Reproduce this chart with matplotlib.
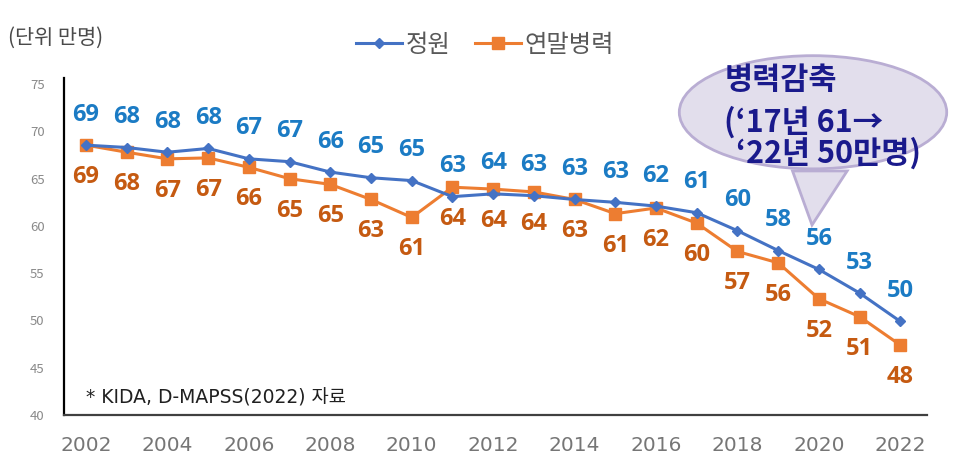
import matplotlib
matplotlib.use("Agg")
import matplotlib.pyplot as plt
from matplotlib.patches import Ellipse, Polygon

plt.rcParams['font.family'] = ['Noto Sans CJK KR', 'DejaVu Sans']

years = list(range(2002, 2023))
# 정원 (quota) and 연말병력 (year-end troops), 만명
quota = [68.55, 68.3, 67.8, 68.2, 67.1, 66.8, 65.7, 65.1, 64.8, 63.1, 63.4,
         63.2, 62.8, 62.5, 62.1, 61.4, 59.5, 57.4, 55.4, 52.9, 49.9]
troops = [68.55, 67.8, 67.1, 67.2, 66.2, 65.0, 64.4, 62.8, 60.9, 64.1, 63.9,
          63.6, 62.8, 61.3, 61.9, 60.3, 57.3, 56.1, 52.3, 50.4, 47.4]
quota_labels = [69, 68, 68, 68, 67, 67, 66, 65, 65, 63, 64, 63, 63, 63, 62, 61, 60, 58, 56, 53, 50]
troop_labels = [69, 68, 67, 67, 66, 65, 65, 63, 61, 64, 64, 64, 63, 61, 62, 60, 57, 56, 52, 51, 48]
xticks = list(range(2002, 2023, 2))
yticks = [40, 45, 50, 55, 60, 65, 70, 75]

fig = plt.figure(figsize=(9.76, 4.62), dpi=100)
ax = fig.add_axes([0.0656, 0.1017, 0.8844, 0.729])

ax.plot(years, quota, color='#4472C4', lw=2.2, marker='D', ms=5.5, label='정원', zorder=3)
ax.plot(years, troops, color='#ED7D31', lw=2.2, marker='s', ms=8, label='연말병력', zorder=2)

lab_font = ['Open Sans', 'DejaVu Sans']
for x, y, t in zip(years, quota, quota_labels):
    ax.annotate(str(t), (x, y), xytext=(0, 22), textcoords='offset points',
                ha='center', va='center', fontsize=17, fontweight='bold',
                color='#1B7BC4', family=lab_font)
for x, y, t in zip(years, troops, troop_labels):
    ax.annotate(str(t), (x, y), xytext=(0, -23), textcoords='offset points',
                ha='center', va='center', fontsize=17, fontweight='bold',
                color='#C55A11', family=lab_font)

ax.set_xlim(2001.46, 2022.66)
ax.set_ylim(40, 75.63)
ax.set_xticks(xticks)
ax.set_xticklabels([str(v) for v in xticks], fontsize=14.5, color='#767676', family='DejaVu Sans')
ax.set_yticks(yticks)
ax.set_yticklabels([str(v) for v in yticks], fontsize=9.5, color='#8a8a8a')
ax.tick_params(axis='x', length=0, pad=15)
ax.tick_params(axis='y', length=0, pad=14)
for s in ['top', 'right']:
    ax.spines[s].set_visible(False)
ax.spines['left'].set_color('black')
ax.spines['left'].set_linewidth(1.6)
ax.spines['bottom'].set_color('#404040')
ax.spines['bottom'].set_linewidth(1.6)

fig.legend(loc='center', bbox_to_anchor=(0.497, 0.903), ncol=2, frameon=False,
           fontsize=17.5, labelcolor='#595959', handlelength=1.9, columnspacing=1.0,
           handletextpad=0.15)

fig.text(0.008, 0.918, '(단위 만명)', fontsize=15, color='#4a4a4a', ha='left', va='center')
ax.text(0.026, 0.05, '* KIDA, D-MAPSS(2022) 자료', transform=ax.transAxes,
        fontsize=13.5, color='#202020', ha='left', va='center',
        family=['DejaVu Sans', 'Noto Sans CJK KR'])

# speech bubble
bub = Ellipse((0.833, 0.757), 0.274, 0.245, transform=fig.transFigure,
              facecolor='#E2DEEC', edgecolor='#B9ADD3', lw=2, zorder=1)
tail = Polygon([[0.812, 0.63], [0.832, 0.513], [0.868, 0.63]], closed=True,
               transform=fig.transFigure, facecolor='#E2DEEC', edgecolor='#B9ADD3',
               lw=2, zorder=1)
fig.patches.extend([tail, bub])
fig.text(0.742, 0.827, '병력감축', fontsize=22, fontweight='bold', color='#1A1A8C', va='center')
fig.text(0.742, 0.736, "(‘17년 61→", fontsize=22, fontweight='bold', color='#1A1A8C', va='center')
fig.text(0.754, 0.667, "‘22년 50만명)", fontsize=22, fontweight='bold', color='#1A1A8C', va='center')

fig.savefig('out.png', dpi=100)
